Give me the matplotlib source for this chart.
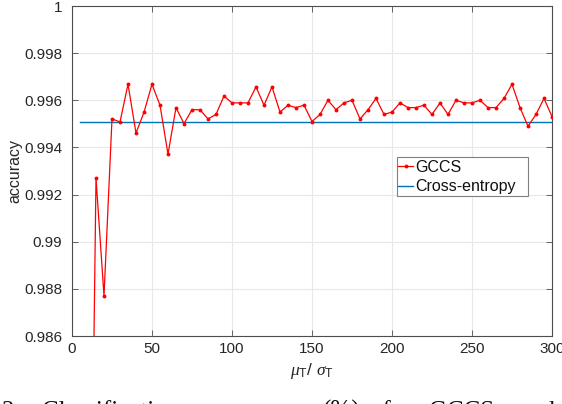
import matplotlib
matplotlib.use("Agg")
import matplotlib.pyplot as plt
from matplotlib.patches import Rectangle

plt.rcParams['font.family'] = ['Liberation Sans', 'DejaVu Sans']
plt.rcParams['mathtext.fontset'] = 'custom'
plt.rcParams['mathtext.it'] = 'Liberation Serif:italic'
plt.rcParams['mathtext.rm'] = 'Liberation Sans'

x_gccs = [10, 15, 20, 25, 30, 35, 40, 45, 50, 55, 60, 65, 70, 75, 80, 85, 90, 95,
          100, 105, 110, 115, 120, 125, 130, 135, 140, 145, 150, 155, 160, 165,
          170, 175, 180, 185, 190, 195, 200, 205, 210, 215, 220, 225, 230, 235,
          240, 245, 250, 255, 260, 265, 270, 275, 280, 285, 290, 295, 300]
y_gccs = [0.966, 0.9927, 0.9877, 0.99521, 0.99508, 0.99668, 0.99461, 0.99549,
          0.99668, 0.99579, 0.99371, 0.99569, 0.99501, 0.99560, 0.99560, 0.99521,
          0.99540, 0.99618, 0.99589, 0.99589, 0.99589, 0.99657, 0.99579, 0.99657,
          0.99550, 0.99579, 0.99569, 0.99579, 0.99510, 0.99540, 0.99600, 0.99560,
          0.99589, 0.99600, 0.99521, 0.99560, 0.99608, 0.99540, 0.99550, 0.99589,
          0.99569, 0.99569, 0.99579, 0.99540, 0.99589, 0.99540, 0.99600, 0.99589,
          0.99589, 0.99600, 0.99569, 0.99569, 0.99608, 0.99668, 0.99569, 0.99490,
          0.99540, 0.99608, 0.99531]
x_ce = [5, 300]
y_ce = [0.9951, 0.9951]

xticks = [0, 50, 100, 150, 200, 250, 300]
yticks = [0.986, 0.988, 0.99, 0.992, 0.994, 0.996, 0.998, 1]
ytick_labels = ['0.986', '0.988', '0.99', '0.992', '0.994', '0.996', '0.998', '1']

caption_words = ['2.', 'Classification', 'accuracy', '(%)', 'of', 'GCCS', 'and']
caption_x = [2, 42, 212, 323, 370, 429, 519]

W, H = 562, 404
fig = plt.figure(figsize=(W / 100, H / 100), dpi=100)
ax = fig.add_axes([72 / W, 1 - 336 / H, 480 / W, 330 / H])

ax.plot(x_gccs, y_gccs, color='#ff0000', lw=0.9, marker='o', markersize=1.8,
        label='GCCS', zorder=3)
ax.plot(x_ce, y_ce, color='#0072bd', lw=1.0, label='Cross-entropy', zorder=2)

ax.set_xlim(0, 300)
ax.set_ylim(0.986, 1)
ax.set_xticks(xticks)
ax.set_yticks(yticks)
ax.set_yticklabels(ytick_labels)
ax.grid(True, color='#e8e8e8', lw=0.8)
ax.set_axisbelow(True)
for s in ax.spines.values():
    s.set_color('#4d4d4d')
    s.set_linewidth(0.8)
ax.tick_params(direction='in', length=4, width=0.6, color='#4d4d4d',
               labelsize=11, labelcolor='#262626',
               top=True, right=True)
ax.tick_params(axis='x', pad=4)
ax.tick_params(axis='y', pad=7)

ax.set_ylabel('accuracy', fontsize=11.5, color='#262626', labelpad=1)
ax.set_xlabel(r'$\mu_{\mathrm{T}}$/ $\sigma_{\mathrm{T}}$', fontsize=12.5,
              color='#262626', labelpad=4)

frame = Rectangle((397 / W, 1 - 196 / H), 131 / W, 39 / H,
                  transform=fig.transFigure, facecolor='white',
                  edgecolor='#808080', lw=0.8, zorder=4, clip_on=False)
ax.add_patch(frame)
leg = ax.legend(loc='upper left', bbox_to_anchor=(398 / W, 1 - 160 / H),
                bbox_transform=fig.transFigure,
                fontsize=11.5, frameon=False, borderpad=0,
                handlelength=0.95, handletextpad=0.12, labelspacing=0.28,
                borderaxespad=0)
leg.set_zorder(5)
for t in leg.get_texts():
    t.set_color('#111111')

for word, px in zip(caption_words, caption_x):
    fig.text(px / W, 1 - 418 / H, word, fontsize=18,
             family='Liberation Serif', va='baseline', ha='left',
             color='#111111')

fig.savefig('out.png', dpi=100)
